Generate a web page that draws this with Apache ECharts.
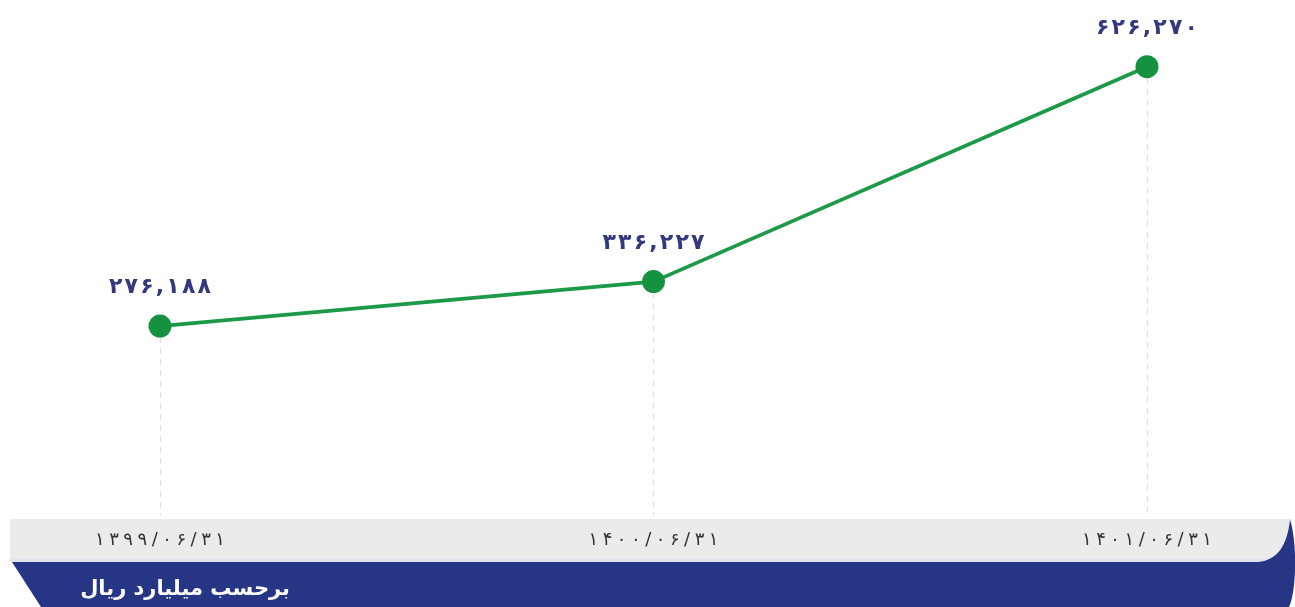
<!DOCTYPE html>
<html>
<head>
<meta charset="utf-8">
<title>chart</title>
<script src="https://cdn.jsdelivr.net/npm/echarts@6/dist/echarts.min.js"></script>
<style>
  html, body { margin: 0; padding: 0; background: #fff; }
  #main { width: 1295px; height: 607px; }
</style>
</head>
<body>
<div id="main"></div>
<script>
  // dates (shamsi) on the x axis
  var dates = ['۱۳۹۹/۰۶/۳۱', '۱۴۰۰/۰۶/۳۱', '۱۴۰۱/۰۶/۳۱']
  // values, billion rials
  var values = [276188, 336227, 626270]
  var valueLabels = ['۲۷۶,۱۸۸', '۳۳۶,۲۲۷', '۶۲۶,۲۷۰']
  var unitText = 'برحسب میلیارد ریال'

  var yMin = 20000
  var yMax = 700000

  var chart = echarts.init(document.getElementById('main'))

  // dashed drop lines from each point down to the axis
  var dropLines = values.map(function (v, i) {
    return [{ coord: [i, v] }, { coord: [i, yMin] }]
  })

  var spaced = function (s, sep) {
    return s.split('').join(sep || '\u2009')
  }

  // cubic bezier -> points, for the banner outline
  function bez (p0, p1, p2, p3, n) {
    var pts = []
    for (var k = 1; k <= n; k++) {
      var t = k / n
      var u = 1 - t
      pts.push([
        u * u * u * p0[0] + 3 * u * u * t * p1[0] + 3 * u * t * t * p2[0] + t * t * t * p3[0],
        u * u * u * p0[1] + 3 * u * u * t * p1[1] + 3 * u * t * t * p2[1] + t * t * t * p3[1]
      ])
    }
    return pts
  }

  var bannerPts = [[12, 562], [1258, 562]]
    .concat(bez([1258, 562], [1278, 560], [1287, 545], [1290, 520], 16))
    .concat(bez([1290, 520], [1297, 540], [1297, 590], [1289, 607], 16))
    .concat([[41, 607]])

  var options = {
    backgroundColor: '#fff',
    animation: false,
    textStyle: { fontFamily: 'DejaVu Sans' },
    grid: { left: 160, right: 148, top: 12, bottom: 91 },
    xAxis: {
      type: 'category',
      data: dates,
      boundaryGap: false,
      z: 10,
      axisLine: { show: false },
      axisTick: { show: false },
      splitLine: { show: false },
      axisLabel: {
        margin: 15,
        color: '#333',
        fontSize: 18,
        fontFamily: 'DejaVu Sans',
        formatter: function (v) { return spaced(v, '\u2005') }
      }
    },
    yAxis: {
      type: 'value',
      min: yMin,
      max: yMax,
      show: false
    },
    series: [{
      type: 'line',
      data: values,
      z: 12,
      symbol: 'circle',
      symbolSize: 23,
      itemStyle: { color: '#14923f' },
      lineStyle: { color: '#1c9a47', width: 3.8 },
      label: {
        show: true,
        position: 'top',
        distance: 16,
        color: '#34387f',
        fontSize: 22,
        fontWeight: 'bold',
        fontFamily: 'DejaVu Sans',
        formatter: function (p) { return spaced(valueLabels[p.dataIndex], '\u200a') }
      },
      markLine: {
        silent: true,
        symbol: 'none',
        label: { show: false },
        lineStyle: { color: '#e0e0e0', type: [6, 5], width: 1.3 },
        data: dropLines
      }
    }],
    graphic: [
      {
        type: 'rect',
        z: -5,
        shape: { x: 10, y: 519, width: 1282, height: 43 },
        style: { fill: '#ebebeb' }
      },
      {
        type: 'rect',
        z: -4,
        shape: { x: 10, y: 559, width: 1265, height: 3 },
        style: { fill: '#dfe3f0' }
      },
      {
        type: 'polygon',
        z: -3,
        shape: { points: bannerPts },
        style: { fill: '#263584' }
      },
      {
        type: 'text',
        z: 20,
        x: 290,
        y: 590,
        style: {
          text: unitText,
          fill: '#fff',
          font: 'bold 21px "DejaVu Sans"',
          textAlign: 'right',
          textVerticalAlign: 'middle'
        }
      }
    ]
  }

  chart.setOption(options)
  window.addEventListener('resize', function () {
    chart.resize()
  })
</script>
</body>
</html>
